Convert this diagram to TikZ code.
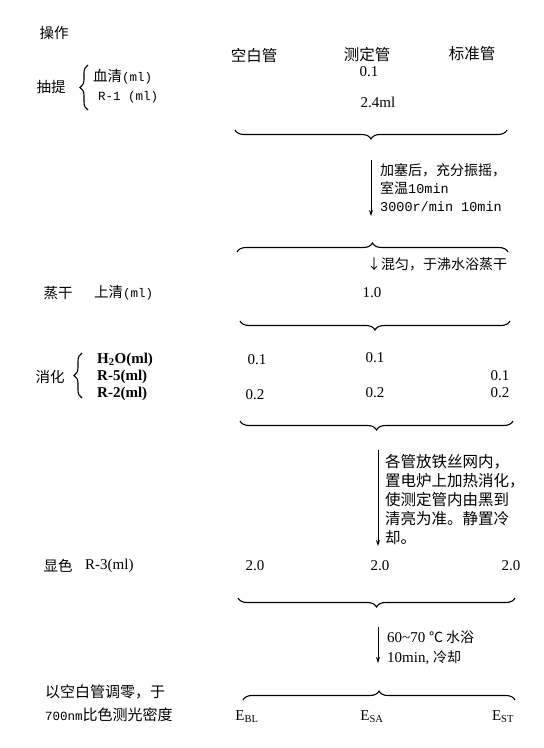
\documentclass[tikz,border=0pt]{standalone}
\usepackage{fontspec}
\setmainfont{Liberation Serif}
\setmonofont{Liberation Mono}
\newfontfamily\cjk{Noto Sans CJK SC}
\usetikzlibrary{decorations.pathreplacing,arrows.meta}
\newcommand\zhf{\cjk\fontsize{14.5}{18.5}\selectfont}
\newcommand\zhs{\cjk\fontsize{14}{18.8}\selectfont}
\newcommand\zhl{\cjk\fontsize{15.5}{19}\selectfont}
\newcommand\numf{\rmfamily\fontsize{15}{18}\selectfont}
\newcommand\ttf[1]{{\ttfamily\fontsize{12.5}{15}\selectfont #1}}
\newcommand\ttb[1]{{\ttfamily\fontsize{13.5}{15}\selectfont #1}}
\begin{document}
\begin{tikzpicture}[x=1pt,y=-1pt,
  lbl/.style={inner sep=0pt, font=\zhf},
  hdr/.style={inner sep=0pt, font=\zhl},
  num/.style={inner sep=0pt, font=\numf},
  bnum/.style={inner sep=0pt, font=\numf\bfseries},
  ubrace/.style={decorate, decoration={brace, amplitude=9pt}, line width=1.1pt},
  lbrace/.style={decorate, decoration={brace, amplitude=8pt}, line width=1.1pt},
  flow/.style={-{Stealth[length=6pt,width=4pt]}, line width=0.9pt},
  steptext/.style={inner sep=0pt, align=left, anchor=north west},
]
\useasboundingbox (0,0) rectangle (544,748);

% header
\node[lbl] (op) at (54,33) {操作};
\node[hdr] (h1) at (254,56) {空白管};
\node[hdr] (h2) at (367,55) {测定管};
\node[hdr] (h3) at (472,54) {标准管};

% extraction
\node[lbl] (cht) at (51,87) {抽提};
\draw[lbrace] (88,110) -- (88,65);
\node[lbl, anchor=west] (xq) at (93,77) {血清\ttf{(ml)}};
\node[inner sep=0pt, anchor=west] (r1) at (98,97) {\ttf{R-1 (ml)}};
\node[num] (v01) at (369,72) {0.1};
\node[num] (v24) at (378,102) {2.4ml};

\draw[ubrace] (507,130) -- (235,130);
\coordinate (a1s) at (371,160);
\coordinate (a1e) at (371,216);
\draw[flow] (a1s) -- (a1e);
\node[steptext, font=\zhs] (t1) at (380,163) {加塞后，充分振摇，\\室温\ttb{10min}\\[-1pt]\ttb{3000r/min 10min}};

\draw[ubrace] (237,252) -- (508,252);
\node[inner sep=0pt, font=\zhs, anchor=west] (t2) at (367,264) {↓混匀，于沸水浴蒸干};

% evaporation
\node[lbl] (zg) at (58,293) {蒸干};
\node[lbl, anchor=west] (sq) at (94,293) {上清\ttf{(ml)}};
\node[num] (v10) at (372,293) {1.0};

\draw[ubrace] (510,321) -- (240,321);

% digestion
\node[lbl] (xh) at (50,377) {消化};
\draw[lbrace] (82,398) -- (82,353);
\node[bnum, anchor=west] (h2o) at (97,360) {H\textsubscript{2}O(ml)};
\node[bnum, anchor=west] (r5) at (97,377) {R-5(ml)};
\node[bnum, anchor=west] (r2) at (97,394) {R-2(ml)};
\node[num] (d11) at (257,360) {0.1};
\node[num] (d12) at (375,358) {0.1};
\node[num] (d13) at (500,376) {0.1};
\node[num] (d21) at (255,395) {0.2};
\node[num] (d22) at (375,393) {0.2};
\node[num] (d23) at (500,393) {0.2};

\draw[ubrace] (513,421) -- (240,421);
\coordinate (a2s) at (378,450);
\coordinate (a2e) at (378,546);
\draw[flow] (a2s) -- (a2e);
\node[steptext, font=\zhl] (t3) at (385,454) {各管放铁丝网内，\\置电炉上加热消化，\\使测定管内由黑到\\清亮为准。静置冷\\却。};

% colour
\node[lbl] (xs) at (58,566) {显色};
\node[num, anchor=west] (r3) at (85,566) {R-3(ml)};
\node[num] (c1) at (255,566) {2.0};
\node[num] (c2) at (380,566) {2.0};
\node[num] (c3) at (511,566) {2.0};

\draw[ubrace] (515,598) -- (238,598);
\coordinate (a3s) at (378,627);
\coordinate (a3e) at (378,663);
\draw[flow] (a3s) -- (a3e);
\node[inner sep=0pt, anchor=west] (t4) at (387,637) {\numf 60\textasciitilde70 {\zhs ℃ 水浴}};
\node[inner sep=0pt, anchor=west] (t5) at (387,658) {\numf 10min, {\zhs 冷却}};

% measurement
\node[inner sep=0pt, font=\cjk\fontsize{15}{18}\selectfont, anchor=west] (m1) at (45,692) {以空白管调零，于};
\node[inner sep=0pt, font=\cjk\fontsize{15}{18}\selectfont, anchor=west] (m2) at (45,715) {\ttf{700nm}比色测光密度};
\draw[ubrace] (243,700) -- (515,700);
\node[num] (e1) at (247,717) {E\textsubscript{BL}};
\node[num] (e2) at (372,717) {E\textsubscript{SA}};
\node[num] (e3) at (503,717) {E\textsubscript{ST}};
\end{tikzpicture}
\end{document}
